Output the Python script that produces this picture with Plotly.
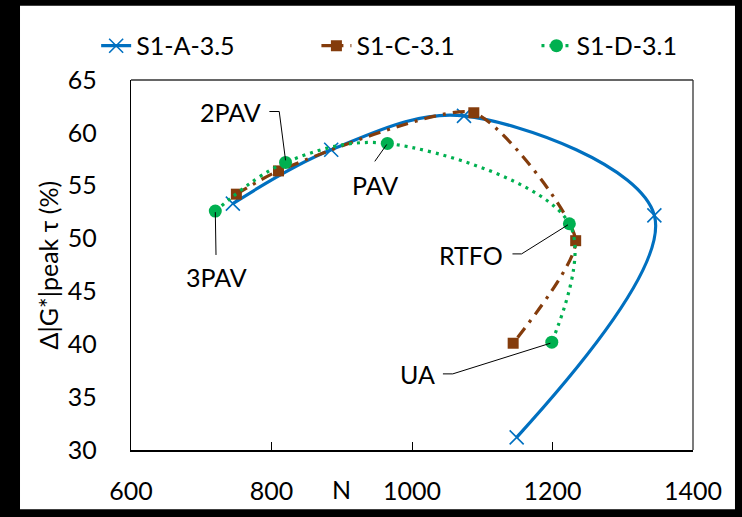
import plotly.graph_objects as go

# ---- data ----
a_N = [745, 885, 1074, 1345, 1149]
a_G = [53.3, 58.4, 61.6, 52.2, 31.2]

c_N = [750, 810, 1088, 1233, 1144]
c_G = [54.2, 56.4, 61.9, 49.8, 40.1]

d_N = [720, 820, 965, 1224, 1199]
d_G = [52.6, 57.2, 59.0, 51.4, 40.2]

names = ["S1-A-3.5", "S1-C-3.1", "S1-D-3.1"]
x_ticks = [600, 800, 1000, 1200, 1400]
y_ticks = [30, 35, 40, 45, 50, 55, 60, 65]

# labels: text, text position, leader polyline (data coords)
labels = [
    ("2PAV", 742, 61.95, [(797, 62.02), (811, 62.02), (820, 57.4)]),
    ("PAV", 947, 55.1, [(947, 57.3), (964, 58.9)]),
    ("3PAV", 721, 46.4, [(721, 48.45), (720, 52.5)]),
    ("RTFO", 1084, 48.4, [(1143, 48.55), (1156, 48.55), (1222, 51.3)]),
    ("UA", 1008, 37.15, [(1044, 37.2), (1058, 37.2), (1197, 40.1)]),
]

FONT = "Lato"
FS = 25
PAD = "\u00a0" * 12  # spacing between legend entries

fig = go.Figure()
fig.add_trace(go.Scatter(
    x=a_N, y=a_G, name=names[0] + PAD, mode="lines+markers",
    line=dict(color="#0070C0", width=3.2, shape="spline", smoothing=1.0),
    marker=dict(symbol="x-thin", size=14, line=dict(color="#0070C0", width=1.6)),
))
fig.add_trace(go.Scatter(
    x=c_N, y=c_G, name=names[1] + PAD, mode="lines+markers",
    line=dict(color="#843C0C", width=3.2, shape="spline", smoothing=0.6, dash="12px,7px,3px,7px"),
    marker=dict(symbol="square", size=11, color="#843C0C"),
))
fig.add_trace(go.Scatter(
    x=d_N, y=d_G, name=names[2], mode="lines+markers",
    line=dict(color="#00B050", width=3.2, shape="spline", smoothing=1.0, dash="3px,5px"),
    marker=dict(symbol="circle", size=13, color="#00B050"),
))

shapes = [
    # white card on black background
    dict(type="rect", xref="paper", yref="paper", x0=-0.1975, x1=1.0747, y0=-0.16, y1=1.2005,
         fillcolor="white", line=dict(width=0), layer="below"),
    # top and right frame lines
    dict(type="line", xref="paper", yref="paper", x0=0, x1=1, y0=1, y1=1,
         line=dict(color="#333333", width=1.3)),
    dict(type="line", xref="paper", yref="paper", x0=1, x1=1, y0=0, y1=1,
         line=dict(color="#333333", width=1.3)),
]
annotations = []
for txt, tx, ty, pts in labels:
    annotations.append(dict(x=tx, y=ty, xref="x", yref="y", text=txt, showarrow=False,
                            font=dict(family=FONT, size=FS, color="black")))
    path = "M " + " L ".join(f"{px},{py}" for px, py in pts)
    shapes.append(dict(type="path", xref="x", yref="y", path=path,
                       line=dict(color="black", width=1)))

annotations.append(dict(x=900, y=-0.105, xref="x", yref="paper", text="N", showarrow=False,
                        font=dict(family=FONT, size=FS, color="black"), yanchor="middle"))
annotations.append(dict(x=-0.147, y=0.5, xref="paper", yref="paper", text="Δ|G*|peak τ (%)",
                        showarrow=False, textangle=-90, xanchor="center", yanchor="middle",
                        font=dict(family=FONT, size=FS, color="black")))

fig.update_layout(
    width=742, height=517,
    margin=dict(l=131, r=49, t=80, b=58, pad=0),
    paper_bgcolor="black", plot_bgcolor="white",
    font=dict(family=FONT, size=FS, color="black"),
    showlegend=True,
    legend=dict(orientation="h", x=-0.062, xanchor="left", y=1.092, yanchor="middle",
                font=dict(family=FONT, size=FS, color="black"), bgcolor="rgba(0,0,0,0)",
                itemwidth=30, tracegroupgap=0),
    shapes=shapes, annotations=annotations,
    xaxis=dict(range=[600, 1400], tickvals=x_ticks, ticktext=[str(v) for v in x_ticks],
               showgrid=False, zeroline=False, showline=True, linecolor="black", linewidth=2,
               ticks="inside", ticklen=8, tickwidth=1.3, tickcolor="black",
               ticklabelstandoff=18, tickfont=dict(family=FONT, size=FS, color="black")),
    yaxis=dict(range=[30, 65], tickvals=y_ticks, ticktext=[str(v) for v in y_ticks],
               showgrid=False, zeroline=False, showline=True, linecolor="black", linewidth=1.3,
               ticks="", ticklabelstandoff=28, tickfont=dict(family=FONT, size=FS, color="black")),
)

fig.write_html("out.html")
